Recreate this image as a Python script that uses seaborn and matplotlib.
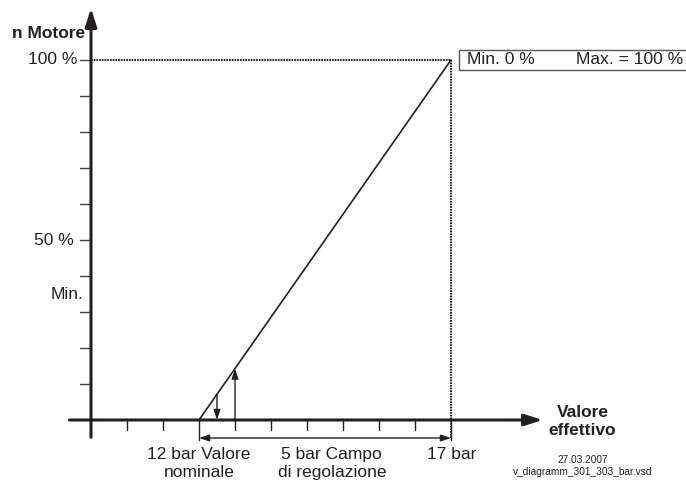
import matplotlib
matplotlib.use("Agg")
import matplotlib.pyplot as plt
from matplotlib.patches import Rectangle
import seaborn as sns
import pandas as pd

# ---- data (x in tick units, y in % of motor speed) ----
x_ticks = [1, 2, 3, 4, 5, 6, 7, 8, 9, 10]
y_ticks = [10, 20, 30, 40, 50, 60, 70, 80, 90, 100]
nominal_x = 3          # 12 bar
max_x = 10             # 17 bar
ramp_x = [3, 10]
ramp_y = [0, 100]
down_arrow_x = 3.5
up_arrow_x = 4
min_level = 35
x_labels = ["12 bar Valore\nnominale", "5 bar Campo\ndi regolazione", "17 bar"]
x_label_pos = [3, 6.69, 10.03]
y_labels = ["100 %", "50 %", "Min."]
y_label_pos = [100, 50, 35]

sns.set_style("white")
plt.rcParams["font.family"] = ["Liberation Sans", "DejaVu Sans"]

C = "#231f20"
fig = plt.figure(figsize=(6.86, 4.86), dpi=100)
ax = fig.add_axes([0, 0, 1, 1])
ax.set_xlim(-91 / 36, (686 - 91) / 36)
ax.set_ylim(-66 / 3.6, (486 - 66) / 3.6)
ax.axis("off")

# ramp line
df = pd.DataFrame({"x": ramp_x, "y": ramp_y})
sns.lineplot(data=df, x="x", y="y", ax=ax, color=C, lw=1.2)

# dotted frame at 100 % / 17 bar
ax.plot([0, max_x], [100, 100], color=C, lw=1.5, ls=(0, (0.8, 0.5)))
ax.plot([max_x, max_x], [100, -5], color=C, lw=1.5, ls=(0, (0.8, 0.5)))

# axes with arrows
ax.annotate("", xy=(0, 114.4), xytext=(0, -4.8),
            arrowprops=dict(arrowstyle="-|>,head_length=1.1,head_width=0.35",
                            color=C, lw=2.2, shrinkA=0, shrinkB=0))
ax.annotate("", xy=(12.55, 0), xytext=(-0.6, 0),
            arrowprops=dict(arrowstyle="-|>,head_length=1.1,head_width=0.35",
                            color=C, lw=2.2, shrinkA=0, shrinkB=0))

# ticks
for t in y_ticks:
    ax.plot([-0.31, 0], [t, t], color="#444444", lw=1.0)
for t in x_ticks:
    bottom = -5.6 if t in (nominal_x, max_x) else -2.8
    ax.plot([t, t], [0, bottom], color=C, lw=1.0)

# small arrows
ramp_at = lambda x: (x - ramp_x[0]) / (ramp_x[1] - ramp_x[0]) * 100
ax.annotate("", xy=(down_arrow_x, 0), xytext=(down_arrow_x, ramp_at(down_arrow_x)),
            arrowprops=dict(arrowstyle="-|>,head_length=0.6,head_width=0.2",
                            color=C, lw=1.0, shrinkA=0, shrinkB=0))
ax.annotate("", xy=(up_arrow_x, ramp_at(up_arrow_x)), xytext=(up_arrow_x, 0),
            arrowprops=dict(arrowstyle="-|>,head_length=0.6,head_width=0.2",
                            color=C, lw=1.0, shrinkA=0, shrinkB=0))
ax.annotate("", xy=(nominal_x, -5), xytext=(max_x, -5),
            arrowprops=dict(arrowstyle="<|-|>,head_length=0.6,head_width=0.2",
                            color=C, lw=1.0, shrinkA=0, shrinkB=0))

fs = 12.5
# y labels
ax.text(-0.17, 107.5, "n Motore", ha="right", va="center", fontsize=fs,
        fontweight="bold", color=C)
for lab, pos, xo in zip(y_labels, y_label_pos, [-0.39, -0.47, -0.22]):
    ax.text(xo, pos, lab, ha="right", va="center", fontsize=fs, color=C)

# x labels
for lab, pos in zip(x_labels, x_label_pos):
    ax.text(pos, -7.4, lab, ha="center", va="top", fontsize=fs, color=C,
            linespacing=1.3)

ax.text(13.65, -0.4, "Valore\neffettivo", ha="center", va="center",
        fontsize=fs, fontweight="bold", color=C, linespacing=1.25)
ax.text(13.67, -12.8, "27.03.2007\nv_diagramm_301_303_bar.vsd", ha="center",
        va="center", fontsize=7.3, color=C, linespacing=1.15)

# legend box
ax.add_patch(Rectangle((10.22, 97.2), 6.5, 5.6, fill=False, ec="#555555", lw=1.0))
ax.text(10.45, 100, "Min. 0 %", ha="left", va="center", fontsize=fs, color=C)
ax.text(16.45, 100, "Max. = 100 %", ha="right", va="center", fontsize=fs, color=C)

fig.savefig("out.png", dpi=100)
